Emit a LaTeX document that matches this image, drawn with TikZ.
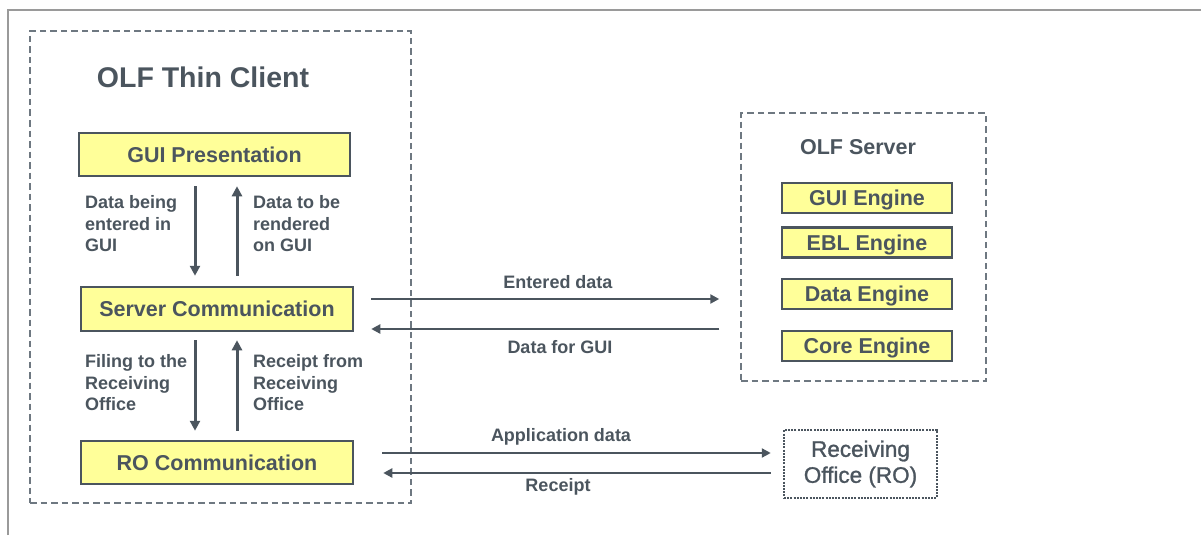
\documentclass[tikz,border=0pt]{standalone}
\usepackage{fontspec}
\setmainfont{Liberation Sans}
\newfontfamily\semibfont[FakeBold=1.2]{Liberation Sans}
\usetikzlibrary{arrows.meta}
\definecolor{ink}{HTML}{4B555E}
\definecolor{boxfill}{HTML}{FFFF99}
\definecolor{dashcol}{HTML}{6E7881}
\definecolor{framecol}{HTML}{9A9A9A}
\tikzset{
  ybox/.style={draw=ink, line width=2.5pt, fill=boxfill, text=ink, font=\fontsize{21.5}{24}\selectfont\bfseries, inner sep=0pt, text height=15.4pt, text depth=-2pt},
  dbox/.style={draw=dashcol, line width=1.5pt, dash pattern=on 6.5pt off 4pt, inner sep=0pt},
  dotbox/.style={draw=ink, line width=2.5pt, dash pattern=on 2pt off 1.2pt, inner sep=0pt, text=ink, align=center, font=\fontsize{22.5}{26}\semibfont},
  lbl/.style={text=ink, align=left, inner sep=0pt, font=\fontsize{18}{21.5}\selectfont\bfseries},
  clbl/.style={text=ink, inner sep=0pt, font=\fontsize{18}{21.5}\selectfont\bfseries},
  varr/.style={draw=ink, line width=3pt, -{Triangle[length=10pt,width=10pt]}},
  harr/.style={draw=ink, line width=2.5pt, -{Triangle[length=9pt,width=9pt]}},
}
\begin{document}
\begin{tikzpicture}[x=1pt,y=-1pt]
\useasboundingbox (0,0) rectangle (1201,535);
% outer frame
\draw[framecol, line width=2pt] (8,535) -- (8,10) -- (1201,10);

% containers
\node[dbox, minimum width=381pt, minimum height=472pt] (client) at (220.5,267) {};
\node[dbox, minimum width=245pt, minimum height=268pt] (server) at (863.5,247) {};
\node[dotbox, minimum width=153pt, minimum height=68pt] (rox) at (860.5,464) {\fontsize{22.5}{26}\selectfont Receiving\\Office (RO)};

% titles
\node[text=ink, inner sep=0pt, font=\fontsize{28.5}{32}\selectfont\bfseries] (ttl1) at (203,77) {OLF Thin Client};
\node[text=ink, inner sep=0pt, font=\fontsize{21.5}{24}\selectfont\bfseries] (ttl2) at (858,147) {OLF Server};

% client boxes
\node[ybox, minimum width=271pt, minimum height=43pt] (gui) at (214.5,154.5) {GUI Presentation};
\node[ybox, minimum width=272pt, minimum height=44pt] (srv) at (217,309) {Server Communication};
\node[ybox, minimum width=272pt, minimum height=43pt] (ro) at (217,462.5) {RO Communication};

% server engines
\node[ybox, minimum width=170pt, minimum height=30pt] (e1) at (867,198) {GUI Engine};
\node[ybox, minimum width=170pt, minimum height=30pt] (e2) at (867,242.5) {EBL Engine};
\node[ybox, minimum width=170pt, minimum height=30pt] (e3) at (867,294) {Data Engine};
\node[ybox, minimum width=170pt, minimum height=30pt] (e4) at (867,346) {Core Engine};

% helper coordinates
\coordinate (xa) at (195,0);
\coordinate (xb) at (237,0);
\coordinate (ya) at (0,299);
\coordinate (yb) at (0,329);
\coordinate (yc) at (0,453);
\coordinate (yd) at (0,473);

% vertical arrows
\draw[varr, shorten <=9pt, shorten >=10pt] (gui.south -| xa) -- (srv.north -| xa);
\draw[varr, shorten <=10pt, shorten >=9pt] (srv.north -| xb) -- (gui.south -| xb);
\draw[varr, shorten <=8pt, shorten >=9pt] (srv.south -| xa) -- (ro.north -| xa);
\draw[varr, shorten <=9pt, shorten >=8pt] (ro.north -| xb) -- (srv.south -| xb);

% horizontal arrows
\draw[harr, shorten <=17pt, shorten >=21pt] (srv.east |- ya) -- (server.west |- ya);
\draw[harr, shorten <=21pt, shorten >=17pt] (server.west |- yb) -- (srv.east |- yb);
\draw[harr, shorten <=28pt, shorten >=12pt] (ro.east |- yc) -- (rox.west |- yc);
\draw[harr, shorten <=12pt, shorten >=29pt] (rox.west |- yd) -- (ro.east |- yd);

% labels
\node[lbl, anchor=west] (l1) at (85,224) {Data being\\entered in\\GUI};
\node[lbl, anchor=west] (l2) at (253,224) {Data to be\\rendered\\on GUI};
\node[lbl, anchor=west] (l3) at (85,383) {Filing to the\\Receiving\\Office};
\node[lbl, anchor=west] (l4) at (253,383) {Receipt from\\Receiving\\Office};
\node[clbl] (l5) at (558,282) {Entered data};
\node[clbl] (l6) at (560,347) {Data for GUI};
\node[clbl] (l7) at (561,437) {Application data};
\node[clbl] (l8) at (558,487) {Receipt};
\end{tikzpicture}
\end{document}
